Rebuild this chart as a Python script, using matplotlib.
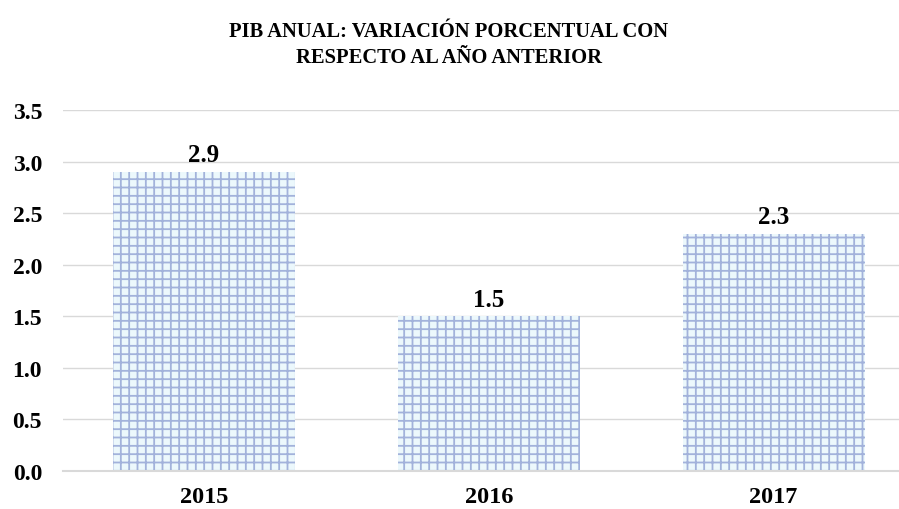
import matplotlib.pyplot as plt
import matplotlib as mpl

years = ['2015', '2016', '2017']
pib = [2.9, 1.5, 2.3]
yticks = [0.0, 0.5, 1.0, 1.5, 2.0, 2.5, 3.0, 3.5]

plt.rcParams['font.family'] = ['Liberation Serif', 'DejaVu Serif']
plt.rcParams['font.weight'] = 'bold'
mpl.rcParams['hatch.color'] = '#a2b2db'
mpl.rcParams['hatch.linewidth'] = 1.3

fig = plt.figure(figsize=(8.99, 5.10), dpi=100)
ax = fig.add_axes([0.070, 0.075, 0.930, 0.707])

x = range(len(years))
bars = ax.bar(x, pib, width=0.64, color='#ecf8fc', hatch='++', edgecolor='#a2b2db', linewidth=0, zorder=2)

for xi, v in zip(x, pib):
    ax.annotate(f'{v:.1f}', (xi, v), xytext=(0, 4), textcoords='offset points',
                ha='center', va='bottom', fontsize=18, fontweight='bold')

ax.set_xlim(-0.495, 2.44)
ax.set_ylim(0, 3.5)
ax.set_yticks(yticks)
ax.set_yticklabels([f'{t:.1f}' for t in yticks], fontsize=17, fontweight='bold')
ax.set_xticks(list(x))
ax.set_xticklabels(years, fontsize=17.5, fontweight='bold')
ax.tick_params(axis='y', length=0, pad=15)
ax.tick_params(axis='x', length=0, pad=11)
ax.grid(axis='y', color='#d9d9d9', linewidth=1, zorder=0)
for s in ['top', 'right', 'left']:
    ax.spines[s].set_visible(False)
ax.spines['bottom'].set_color('#d9d9d9')
ax.spines['bottom'].set_linewidth(1.5)

fig.text(0.499, 0.912, 'PIB ANUAL: VARIACIÓN PORCENTUAL CON\nRESPECTO AL AÑO ANTERIOR',
         ha='center', va='center', fontsize=14.8, fontweight='bold', linespacing=1.45)

fig.savefig('out.png', dpi=100)
